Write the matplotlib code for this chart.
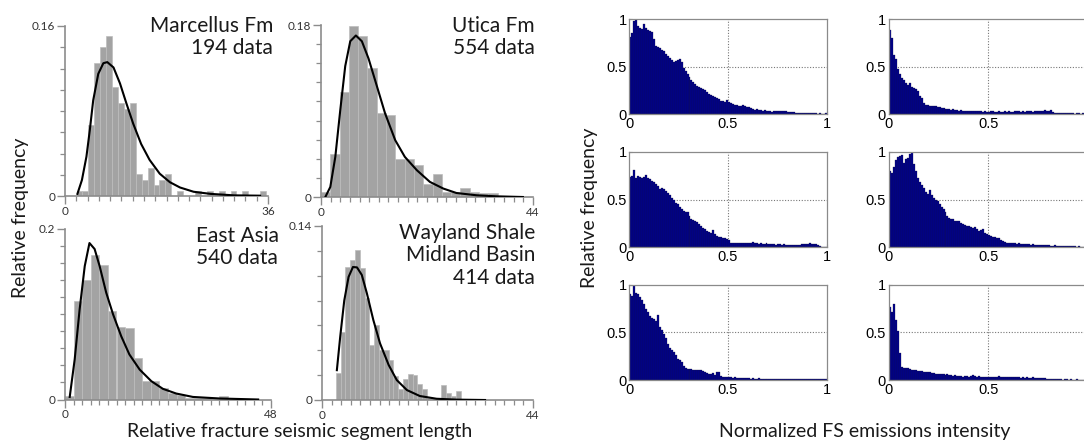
import numpy as np
import matplotlib
matplotlib.use("Agg")
import matplotlib.pyplot as plt

W, H = 1084, 443

# ---------------- Left: histograms of relative segment length ----------------
marcellus_title = ["Marcellus Fm", "194 data"]
marcellus_start, marcellus_width = 2.05, 1.05
marcellus_freq = [0.005, 0.005, 0.067, 0.125, 0.140, 0.151, 0.103, 0.088, 0.082, 0.088,
                  0.021, 0.015, 0.026, 0.010, 0.015, 0.021, 0.0, 0.005, 0.0, 0.0,
                  0.005, 0.0, 0.005, 0.0, 0.005, 0.0, 0.005, 0.0, 0.005, 0.0, 0.0, 0.005]
marcellus_fit_x = [2.2, 3.0, 3.8, 4.4, 5.0, 5.9, 6.8, 7.5, 8.6, 9.75, 10.9, 12.1, 13.5,
                   15.0, 16.8, 18.6, 20.4, 22.8, 25.8, 30.0, 34.6]
marcellus_fit_y = [0.002, 0.015, 0.037, 0.062, 0.090, 0.115, 0.125, 0.126, 0.121, 0.106,
                   0.087, 0.068, 0.049, 0.034, 0.021, 0.013, 0.008, 0.004, 0.002, 0.0006, 0.0003]

utica_title = ["Utica Fm", "554 data"]
utica_start, utica_width = 0.0, 1.93
utica_freq = [0.005, 0.0455, 0.110, 0.179, 0.169, 0.135, 0.0875, 0.086, 0.040, 0.040,
              0.033, 0.014, 0.0245, 0.005, 0.005, 0.009, 0.005, 0.004, 0.004]
utica_fit_x = [0.9, 1.93, 2.97, 4.0, 5.03, 6.07, 7.24, 8.48, 9.86, 11.6, 13.3, 15.4, 17.4,
               19.9, 22.6, 25.4, 28.1, 32.3, 36.4, 41.9]
utica_fit_y = [0.0, 0.0105, 0.042, 0.091, 0.137, 0.163, 0.169, 0.163, 0.145, 0.116, 0.0875,
               0.0595, 0.042, 0.028, 0.0158, 0.0088, 0.0042, 0.0018, 0.0007, 0.0]

eastasia_title = ["East Asia", "540 data"]
eastasia_start, eastasia_width = 0.0, 2.0
eastasia_freq = [0.004, 0.115, 0.140, 0.169, 0.157, 0.1035, 0.085, 0.084, 0.048, 0.0215,
                 0.0215, 0.014, 0.008, 0.005, 0.002, 0.002, 0.002, 0.0, 0.004]
eastasia_fit_x = [1.1, 2.26, 3.4, 4.6, 5.7, 6.9, 8.07, 9.6, 11.2, 13.1, 15.0, 17.4, 20.1,
                  22.8, 25.9, 29.8, 36.0, 45.0]
eastasia_fit_y = [0.003, 0.047, 0.105, 0.156, 0.183, 0.176, 0.156, 0.125, 0.0996, 0.074,
                  0.0527, 0.035, 0.0215, 0.0125, 0.007, 0.003, 0.0012, 0.0]

wayland_title = ["Wayland Shale", "Midland Basin", "414 data"]
wayland_start, wayland_width = 2.9, 1.0
wayland_freq = [0.0215, 0.055, 0.107, 0.113, 0.121, 0.106, 0.082, 0.044, 0.060, 0.040,
                0.040, 0.032, 0.019, 0.009, 0.017, 0.021, 0.020, 0.013, 0.009, 0.0013,
                0.0013, 0.0, 0.012, 0.006, 0.003, 0.007]
wayland_fit_x = [3.1, 3.8, 4.64, 5.54, 6.45, 7.3, 8.3, 9.36, 10.7, 12.1, 13.9, 15.6, 17.7,
                 20.4, 23.9, 28.0, 34.0]
wayland_fit_y = [0.024, 0.051, 0.080, 0.099, 0.107, 0.1067, 0.1006, 0.0858, 0.0644, 0.0456,
                 0.0282, 0.016, 0.008, 0.0032, 0.001, 0.0003, 0.0]

# ---------------- Right: normalized FS emission intensity ----------------
fs_bins = np.arange(100) * 0.01
fs_a = [0.81, 0.86, 0.98, 1.00, 0.93, 0.91, 0.90, 0.95, 0.91, 0.89,
        0.88, 0.87, 0.79, 0.72, 0.71, 0.70, 0.68, 0.66, 0.63, 0.61,
        0.59, 0.57, 0.55, 0.56, 0.57, 0.58, 0.55, 0.49, 0.45, 0.42,
        0.39, 0.36, 0.34, 0.32, 0.30, 0.28, 0.27, 0.26, 0.25, 0.23,
        0.21, 0.20, 0.19, 0.18, 0.17, 0.16, 0.14, 0.14, 0.13, 0.15,
        0.13, 0.12, 0.11, 0.10, 0.09, 0.08, 0.08, 0.09, 0.08, 0.07,
        0.07, 0.06, 0.05, 0.04, 0.05, 0.04, 0.04, 0.035, 0.04, 0.03,
        0.03, 0.03, 0.025, 0.03, 0.035, 0.03, 0.035, 0.035, 0.03, 0.03,
        0.025, 0.02, 0.02, 0.02, 0.015, 0.015, 0.015, 0.01, 0.01, 0.01,
        0.01, 0.01, 0.01, 0.01, 0.01, 0.005, 0.01, 0.005, 0.005, 0.01]
fs_b = [0.89, 0.80, 0.62, 0.58, 0.47, 0.42, 0.38, 0.36, 0.33, 0.31,
        0.33, 0.29, 0.27, 0.26, 0.24, 0.19, 0.17, 0.12, 0.09, 0.09,
        0.08, 0.08, 0.08, 0.08, 0.07, 0.07, 0.06, 0.06, 0.05, 0.05,
        0.05, 0.04, 0.05, 0.04, 0.04, 0.035, 0.04, 0.03, 0.035, 0.03,
        0.03, 0.035, 0.03, 0.03, 0.035, 0.03, 0.03, 0.025, 0.03, 0.02,
        0.025, 0.03, 0.03, 0.025, 0.025, 0.03, 0.02, 0.025, 0.03, 0.025,
        0.03, 0.025, 0.02, 0.03, 0.035, 0.03, 0.025, 0.03, 0.025, 0.03,
        0.03, 0.035, 0.025, 0.03, 0.03, 0.03, 0.035, 0.03, 0.04, 0.035,
        0.035, 0.04, 0.02, 0.015, 0.015, 0.01, 0.01, 0.01, 0.015, 0.01,
        0.01, 0.01, 0.01, 0.005, 0.01, 0.01, 0.005, 0.01, 0.005, 0.005]
fs_c = [0.74, 0.75, 0.81, 0.73, 0.75, 0.74, 0.73, 0.74, 0.76, 0.72,
        0.71, 0.69, 0.68, 0.66, 0.64, 0.61, 0.62, 0.61, 0.59, 0.57,
        0.55, 0.52, 0.50, 0.46, 0.45, 0.42, 0.40, 0.38, 0.37, 0.37,
        0.33, 0.30, 0.29, 0.28, 0.26, 0.24, 0.22, 0.20, 0.19, 0.17,
        0.16, 0.15, 0.18, 0.14, 0.12, 0.11, 0.11, 0.10, 0.10, 0.09,
        0.08, 0.05, 0.05, 0.04, 0.045, 0.04, 0.04, 0.05, 0.04, 0.045,
        0.04, 0.05, 0.055, 0.04, 0.04, 0.035, 0.04, 0.03, 0.035, 0.04,
        0.03, 0.035, 0.03, 0.03, 0.025, 0.03, 0.03, 0.025, 0.03, 0.025,
        0.02, 0.025, 0.02, 0.025, 0.02, 0.025, 0.02, 0.03, 0.035, 0.03,
        0.035, 0.04, 0.03, 0.035, 0.03, 0.02, 0.01, 0.0, 0.0, 0.0]
fs_d = [0.80, 0.78, 0.84, 0.91, 0.94, 0.96, 0.97, 0.88, 0.92, 0.93,
        0.98, 1.00, 0.87, 0.80, 0.73, 0.68, 0.65, 0.62, 0.58, 0.56,
        0.60, 0.55, 0.52, 0.50, 0.48, 0.45, 0.42, 0.40, 0.37, 0.33,
        0.31, 0.30, 0.30, 0.28, 0.27, 0.27, 0.25, 0.24, 0.23, 0.22,
        0.22, 0.21, 0.20, 0.21, 0.19, 0.17, 0.18, 0.19, 0.15, 0.14,
        0.13, 0.12, 0.11, 0.11, 0.10, 0.10, 0.08, 0.07, 0.06, 0.05,
        0.05, 0.045, 0.04, 0.04, 0.035, 0.04, 0.035, 0.03, 0.035, 0.03,
        0.03, 0.025, 0.03, 0.025, 0.025, 0.02, 0.025, 0.02, 0.02, 0.025,
        0.02, 0.015, 0.015, 0.02, 0.015, 0.015, 0.01, 0.015, 0.01, 0.01,
        0.01, 0.015, 0.01, 0.01, 0.005, 0.01, 0.005, 0.005, 0.005, 0.005]
fs_e = [0.90, 0.88, 1.00, 0.91, 0.90, 0.87, 0.84, 0.80, 0.75, 0.71,
        0.67, 0.65, 0.64, 0.62, 0.68, 0.56, 0.52, 0.48, 0.44, 0.38,
        0.34, 0.31, 0.29, 0.26, 0.22, 0.21, 0.19, 0.15, 0.13, 0.12,
        0.12, 0.12, 0.11, 0.10, 0.11, 0.11, 0.10, 0.09, 0.08, 0.07,
        0.06, 0.06, 0.07, 0.05, 0.08, 0.08, 0.04, 0.035, 0.035, 0.03,
        0.03, 0.03, 0.025, 0.03, 0.02, 0.025, 0.02, 0.02, 0.025, 0.02,
        0.02, 0.015, 0.02, 0.015, 0.015, 0.02, 0.015, 0.01, 0.015, 0.01,
        0.015, 0.01, 0.01, 0.015, 0.01, 0.01, 0.01, 0.015, 0.01, 0.01,
        0.01, 0.015, 0.01, 0.01, 0.01, 0.01, 0.015, 0.01, 0.01, 0.01,
        0.01, 0.015, 0.01, 0.01, 0.01, 0.01, 0.01, 0.015, 0.01, 0.015]
fs_f = [0.77, 0.71, 0.80, 0.63, 0.51, 0.28, 0.14, 0.13, 0.13, 0.13,
        0.12, 0.10, 0.10, 0.10, 0.09, 0.09, 0.09, 0.08, 0.085, 0.08,
        0.08, 0.07, 0.07, 0.065, 0.06, 0.06, 0.065, 0.06, 0.055, 0.06,
        0.05, 0.05, 0.045, 0.05, 0.04, 0.045, 0.04, 0.035, 0.04, 0.04,
        0.035, 0.04, 0.05, 0.04, 0.035, 0.04, 0.035, 0.035, 0.03, 0.035,
        0.03, 0.03, 0.035, 0.03, 0.035, 0.04, 0.035, 0.03, 0.035, 0.03,
        0.035, 0.03, 0.03, 0.035, 0.03, 0.03, 0.025, 0.03, 0.025, 0.03,
        0.025, 0.025, 0.03, 0.025, 0.025, 0.02, 0.025, 0.02, 0.02, 0.015,
        0.015, 0.01, 0.01, 0.01, 0.01, 0.01, 0.01, 0.005, 0.01, 0.01,
        0.005, 0.01, 0.005, 0.005, 0.01, 0.005, 0.005, 0.005, 0.005, 0.005]

CAL = ["Lato", "DejaVu Sans"]
ARIAL = ["Liberation Sans", "DejaVu Sans"]

fig = plt.figure(figsize=(W / 100, H / 100), dpi=100)
fig.patch.set_facecolor("white")


def rect(l, r, t, b):
    return [l / W, 1 - b / H, (r - l) / W, (b - t) / H]


def left_panel(box, start, width, freq, fx, fy, xmax, ymax, title, tx, ty, ha):
    ax = fig.add_axes(rect(*box))
    lefts = start + width * np.arange(len(freq))
    ax.bar(lefts, freq, width=width, align="edge", color="#a3a3a3",
           edgecolor="#bdbdbd", linewidth=0.5, zorder=1)
    ax.plot(fx, fy, color="black", lw=1.5, zorder=3)
    ax.set_xlim(0, xmax)
    ax.set_ylim(0, ymax)
    for s in ("top", "right"):
        ax.spines[s].set_visible(False)
    for s in ("left", "bottom"):
        ax.spines[s].set_color("#8c8c8c")
        ax.spines[s].set_linewidth(1.2)
    ax.set_xticks([0, xmax])
    ax.set_xticklabels(["0", str(xmax)])
    ax.set_xticks(np.arange(0, xmax + 0.01, 2), minor=True)
    ax.set_yticks([0, ymax])
    ax.set_yticklabels(["0", f"{ymax:g}"])
    ax.set_yticks(np.arange(0, ymax + 1e-9, 0.02), minor=True)
    ax.tick_params(which="major", length=6, width=1.0, color="#8c8c8c",
                   labelsize=8.5, labelcolor="#333333", pad=1)
    ax.tick_params(which="minor", length=3.5, width=0.9, color="#8c8c8c")
    for lab in ax.get_xticklabels() + ax.get_yticklabels():
        lab.set_family(CAL)
    fig.text(tx / W, 1 - ty / H, "\n".join(title), ha=ha, va="top", fontsize=15,
             family=CAL, color="#1a1a1a", linespacing=1.15, multialignment=ha)
    return ax


left_panel((65, 268, 26, 196), marcellus_start, marcellus_width, marcellus_freq,
           marcellus_fit_x, marcellus_fit_y, 36, 0.16, marcellus_title, 273, 16, "right")
left_panel((321, 533, 25, 197), utica_start, utica_width, utica_freq,
           utica_fit_x, utica_fit_y, 44, 0.18, utica_title, 535, 16, "right")
left_panel((65, 271, 228.5, 399.5), eastasia_start, eastasia_width, eastasia_freq,
           eastasia_fit_x, eastasia_fit_y, 48, 0.2, eastasia_title, 196, 226, "left")
left_panel((322, 533, 226, 400), wayland_start, wayland_width, wayland_freq,
           wayland_fit_x, wayland_fit_y, 44, 0.14, wayland_title, 535, 223, "right")

fig.text(21 / W, 1 - 218 / H, "Relative frequency", rotation=90, ha="center", va="center",
         fontsize=14, family=CAL, color="#1a1a1a")
fig.text(300 / W, 1 - 431 / H, "Relative fracture seismic segment length", ha="center",
         va="center", fontsize=14, family=CAL, color="#1a1a1a")

# ---------------- right panels ----------------
cols = [(629.3, 826.7), (888.7, 1088.0)]
rows = [(19.3, 114.0), (151.7, 247.3), (284.7, 380.0)]
series = [[fs_a, fs_b], [fs_c, fs_d], [fs_e, fs_f]]
for ri, (t, b) in enumerate(rows):
    for ci, (l, r) in enumerate(cols):
        ax = fig.add_axes(rect(l, r, t, b))
        ax.bar(fs_bins, series[ri][ci], width=0.01, align="edge", color="#00008f",
               edgecolor="#141438", linewidth=0.2, zorder=2)
        ax.set_xlim(0, 1)
        ax.set_ylim(0, 1)
        ax.axvline(0.5, color="#777777", lw=0.8, ls=(0, (1, 1.5)), zorder=1)
        ax.axhline(0.5, color="#777777", lw=0.8, ls=(0, (1, 1.5)), zorder=1)
        for s in ax.spines.values():
            s.set_color("#8a8a8a")
            s.set_linewidth(0.9)
        ax.set_yticks([0, 0.5, 1])
        ax.set_yticklabels(["0", "0.5", "1"])
        if ci == 0:
            ax.set_xticks([0, 0.5, 1])
            ax.set_xticklabels(["0", "0.5", "1"])
        else:
            ax.set_xticks([0, 0.5])
            ax.set_xticklabels(["0", "0.5"])
        ax.tick_params(length=2, direction="in", color="#8a8a8a", labelsize=10.5, pad=2)
        for lab in ax.get_xticklabels() + ax.get_yticklabels():
            lab.set_family(ARIAL)

fig.text(590 / W, 1 - 208 / H, "Relative frequency", rotation=90, ha="center", va="center",
         fontsize=14, family=CAL, color="#1a1a1a")
fig.text(865 / W, 1 - 431 / H, "Normalized FS emissions intensity", ha="center",
         va="center", fontsize=14, family=CAL, color="#1a1a1a")

fig.savefig("out.png", dpi=100, facecolor="white")
